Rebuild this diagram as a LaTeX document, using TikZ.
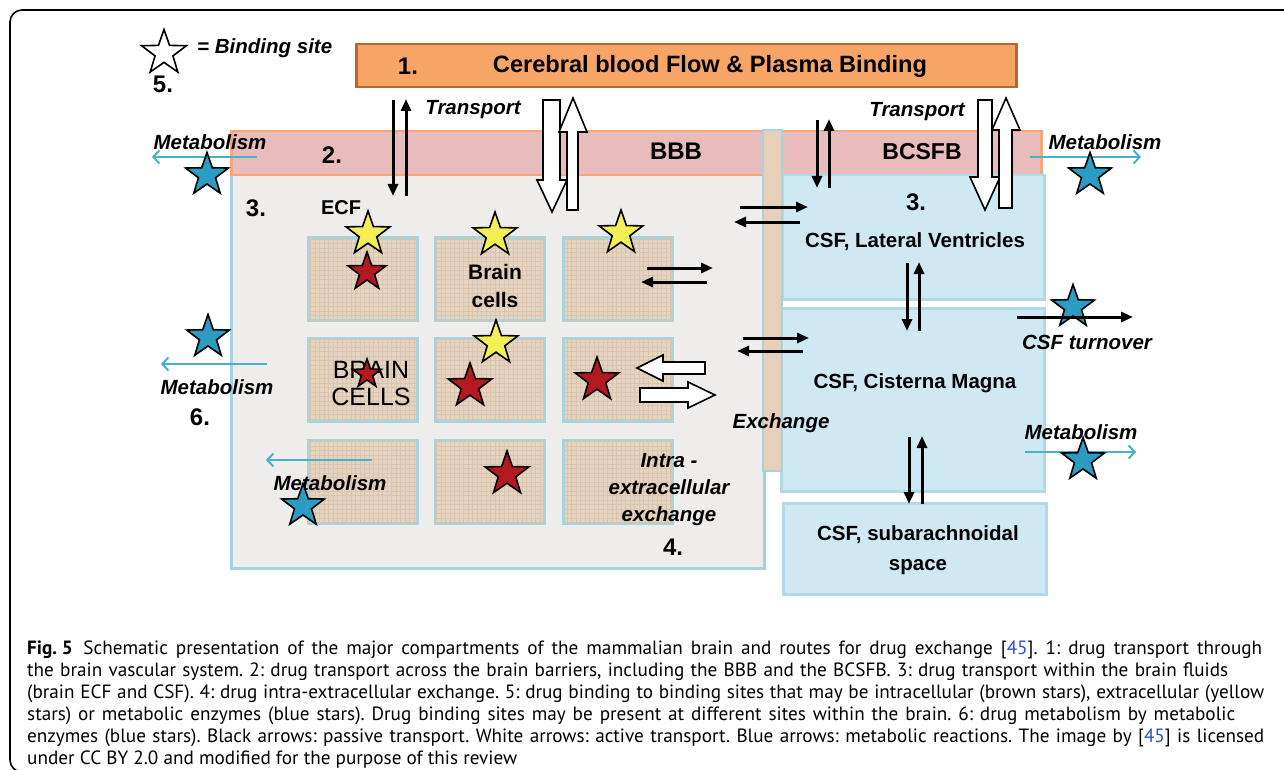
\documentclass[tikz,border=0pt]{standalone}
\usepackage{fontspec}
\setmainfont{Liberation Sans}
\newfontfamily\capfont{PT Sans}
\usetikzlibrary{shapes.geometric,arrows.meta,patterns.meta}
\definecolor{orfill}{HTML}{F6A566}
\definecolor{ordraw}{HTML}{B8662F}
\definecolor{pinkfill}{HTML}{E8BCBC}
\definecolor{pinkdraw}{HTML}{F2A878}
\definecolor{ecffill}{HTML}{EEEDEB}
\definecolor{lblue}{HTML}{A3D4E2}
\definecolor{tanfill}{HTML}{E5D4C0}
\definecolor{tangrid}{HTML}{D9C5AE}
\definecolor{csffill}{HTML}{CFE9F2}
\definecolor{csfdraw}{HTML}{B0DAE8}
\definecolor{stripfill}{HTML}{E8CFB9}
\definecolor{metblue}{HTML}{4AAFCB}
\definecolor{starblue}{HTML}{2C9CC2}
\definecolor{starred}{HTML}{B3191F}
\definecolor{staryellow}{HTML}{F3EF55}
\definecolor{linkblue}{HTML}{2B50D0}
\begin{document}
\frenchspacing
\begin{tikzpicture}[x=1pt,y=-1pt,
  lbl/.style={font=\fontsize{20.5}{27}\selectfont\bfseries\itshape, inner sep=0, align=center},
  num/.style={font=\fontsize{24}{28}\selectfont\bfseries, inner sep=0},
  boxlbl/.style={font=\fontsize{20.5}{30}\selectfont\bfseries, inner sep=0, align=center},
  basestar/.style={star, star points=5, star point ratio=2.5, draw=black, line width=1.6pt, inner sep=0, minimum size=#1},
  ystar/.style={basestar=#1, fill=staryellow},
  rstar/.style={basestar=#1, fill=starred},
  bstar/.style={basestar=#1, fill=starblue},
  wstar/.style={basestar=#1, fill=white},
  tile/.style={draw=lblue, line width=3pt, fill=tanfill, minimum width=109pt, minimum height=83pt, inner sep=0,
     postaction={pattern={Hatch[distance=4.5pt,angle=0,line width=0.4pt]}, pattern color=tangrid}},
  csfbox/.style={draw=csfdraw, line width=2.5pt, fill=csffill, inner sep=0},
  barr/.style={line width=3pt, -{Triangle[length=12pt,width=10pt]}},
  marr/.style={line width=2.5pt, draw=metblue, -{Straight Barb[length=6pt,width=13pt,line width=2pt]}},
  blockarr/.style={draw=black, line width=1.6pt, fill=white, line join=miter},
  capl/.style={font=\capfont\fontsize{19.2}{22}\selectfont, inner sep=0, anchor=base west}
]
\useasboundingbox (0,0) rectangle (1284,770);
\fill[white] (0,0) rectangle (1284,770);
% frame
\draw[line width=1.6pt, rounded corners=12pt] (1300,10) -- (10,10) -- (10,772) -- (1300,772);

% ECF compartment
\node[draw=lblue, line width=2.5pt, fill=ecffill, inner sep=0, minimum width=533pt, minimum height=393pt, anchor=north west] (ecf) at (230,174) {};
% tiles
\node[tile] (t11) at (362.5,278.5) {};
\node[tile] (t12) at (489.5,278.5) {};
\node[tile] (t13) at (618,278.5) {};
\node[tile] (t21) at (362.5,380) {};
\node[tile] (t22) at (489.5,380) {};
\node[tile] (t23) at (618,380) {};
\node[tile] (t31) at (362.5,481.5) {};
\node[tile] (t32) at (489.5,481.5) {};
\node[tile] (t33) at (618,481.5) {};

% barrier band
\node[draw=pinkdraw, line width=2.5pt, fill=pinkfill, inner sep=0, minimum width=810pt, minimum height=44pt, anchor=north west] (band) at (230,130) {};

% CSF boxes
\node[csfbox, minimum width=262pt, minimum height=124pt, anchor=north west] (lv) at (781,174) {};
\node[csfbox, minimum width=263pt, minimum height=183pt, anchor=north west] (cm) at (780,307) {};
\node[csfbox, minimum width=263pt, minimum height=91pt, anchor=north west] (sa) at (782,502) {};

% exchange strip
\node[draw=lblue, line width=2pt, fill=stripfill, inner sep=0, minimum width=19pt, minimum height=341pt, anchor=north west] (strip) at (762,129) {};

% top bar
\node[draw=ordraw, line width=2.5pt, fill=orfill, inner sep=0, minimum width=660pt, minimum height=43pt, anchor=north west] (cbf) at (355,43) {};
\node[num] (n1) at (408,66) {1.};
\node[font=\fontsize{23.6}{28}\selectfont\bfseries, inner sep=0] (cbft) at (710,66) {Cerebral blood Flow \& Plasma Binding};

% legend
\node[wstar=47pt] (legstar) at (164,53) {};
\node[lbl, anchor=west] (legt) at (197,48) {= Binding site};
\node[num] (n5) at (163,84) {5.};

% labels
\node[num] (n2) at (332,155) {2.};
\node[num] (n3a) at (256,208) {3.};
\node[font=\fontsize{20}{24}\selectfont\bfseries, inner sep=0] (ecft) at (341,208) {ECF};
\node[font=\fontsize{24}{28}\selectfont\bfseries, inner sep=0] (bbbt) at (676,151) {BBB};
\node[font=\fontsize{23}{28}\selectfont\bfseries, inner sep=0] (bcsfbt) at (922,152) {BCSFB};
\node[lbl] (tr1) at (473,110) {Transport};
\node[lbl] (tr2) at (917,112) {Transport};
\node[num] (n3b) at (916,202) {3.};
\node[boxlbl] (lvt) at (915,242) {CSF, Lateral Ventricles};
\node[boxlbl] (cmt) at (915,383) {CSF, Cisterna Magna};
\node[boxlbl] (sat) at (918,550) {CSF, subarachnoidal\\space};
\node[font=\fontsize{21}{28}\selectfont\bfseries, inner sep=0, align=center] (bct) at (495,286) {Brain\\cells};
\node[font=\fontsize{25}{27}\selectfont, inner sep=0, align=center] (bct2) at (371,384) {BRAIN\\CELLS};
\node[lbl] (exch) at (781,423) {Exchange};
\node[lbl] (intra) at (669,490) {Intra -\\extracellular\\exchange};
\node[num] (n4) at (673,547) {4.};
\node[lbl] (met1) at (210,142) {Metabolism};
\node[lbl] (met2) at (1105,142) {Metabolism};
\node[lbl] (met3) at (217,387) {Metabolism};
\node[lbl] (met4) at (330,483) {Metabolism};
\node[lbl] (met5) at (1081,432) {Metabolism};
\node[lbl] (csfto) at (1087,342) {CSF turnover};
\node[num] (n6) at (200,417) {6.};

% arrow end points
\coordinate (a1s) at (393,100); \coordinate (a1e) at (393,196);
\coordinate (a2s) at (406,196); \coordinate (a2e) at (406,99);
\coordinate (a3s) at (817,120); \coordinate (a3e) at (817,188);
\coordinate (a4s) at (829,188); \coordinate (a4e) at (829,119);
\coordinate (a5s) at (907,263); \coordinate (a5e) at (907,331);
\coordinate (a6s) at (919,331); \coordinate (a6e) at (919,262);
\coordinate (a7s) at (909,437); \coordinate (a7e) at (909,504);
\coordinate (a8s) at (922,504); \coordinate (a8e) at (922,436);
\coordinate (e1s) at (740,207); \coordinate (e1e) at (808,207);
\coordinate (e2s) at (800,222); \coordinate (e2e) at (734,222);
\coordinate (e3s) at (647,268); \coordinate (e3e) at (713,268);
\coordinate (e4s) at (707,282); \coordinate (e4e) at (641,282);
\coordinate (e5s) at (743,338); \coordinate (e5e) at (809,338);
\coordinate (e6s) at (803,351); \coordinate (e6e) at (737,351);
\coordinate (tos) at (1017,317); \coordinate (toe) at (1133,317);
\coordinate (m1s) at (257,157); \coordinate (m1e) at (152,157);
\coordinate (m2s) at (1030,157); \coordinate (m2e) at (1141,157);
\coordinate (m3s) at (267,364); \coordinate (m3e) at (161,364);
\coordinate (m4s) at (372,460); \coordinate (m4e) at (266,460);
\coordinate (m5s) at (1025,452); \coordinate (m5e) at (1136,452);

% black passive arrows
\draw[barr] (a1s) -- (a1e);
\draw[barr] (a2s) -- (a2e);
\draw[barr] (a3s) -- (a3e);
\draw[barr] (a4s) -- (a4e);
\draw[barr] (a5s) -- (a5e);
\draw[barr] (a6s) -- (a6e);
\draw[barr] (a7s) -- (a7e);
\draw[barr] (a8s) -- (a8e);
\draw[barr] (e1s) -- (e1e);
\draw[barr] (e2s) -- (e2e);
\draw[barr] (e3s) -- (e3e);
\draw[barr] (e4s) -- (e4e);
\draw[barr] (e5s) -- (e5e);
\draw[barr] (e6s) -- (e6e);

% metabolic arrows
\draw[marr] (m1s) -- (m1e);
\draw[marr] (m2s) -- (m2e);
\draw[marr] (m3s) -- (m3e);
\draw[marr] (m4s) -- (m4e);
\draw[marr] (m5s) -- (m5e);

% white active-transport block arrows
\draw[blockarr] (543,100) -- (560,100) -- (560,180) -- (567,180) -- (552,212) -- (537,180) -- (543,180) -- cycle;
\draw[blockarr] (567,210) -- (578,210) -- (578,132) -- (587,132) -- (573,98) -- (559,132) -- (567,132) -- cycle;
\draw[blockarr] (978,100) -- (992,100) -- (992,177) -- (1000,177) -- (985,210) -- (970,177) -- (978,177) -- cycle;
\draw[blockarr] (999,208) -- (1012,208) -- (1012,130) -- (1020,130) -- (1006,98) -- (992,130) -- (999,130) -- cycle;
\draw[blockarr] (705,362) -- (663,362) -- (663,355) -- (637,368) -- (663,381) -- (663,374) -- (705,374) -- cycle;
\draw[blockarr] (640,388) -- (688,388) -- (688,382) -- (715,395) -- (688,408) -- (688,402) -- (640,402) -- cycle;

% stars
\node[ystar=46pt] (y1) at (368,234) {};
\node[ystar=46pt] (y2) at (495,235) {};
\node[ystar=46pt] (y3) at (621,233) {};
\node[ystar=46pt] (y4) at (496,343) {};
\node[rstar=40pt] (r1) at (367,272) {};
\node[rstar=30pt] (r2) at (367,374) {};
\node[rstar=46pt] (r3) at (470,386) {};
\node[rstar=46pt] (r4) at (597,380) {};
\node[rstar=46pt] (r5) at (507,474) {};
\node[bstar=45pt] (b1) at (207,175) {};
\node[bstar=45pt] (b2) at (1090,175) {};
\node[bstar=45pt] (b3) at (208,337) {};
\node[bstar=45pt] (b4) at (1073,307) {};
\node[bstar=45pt] (b5) at (1083,460) {};
\node[bstar=45pt] (b6) at (303,506) {};
\draw[barr] (tos) -- (toe);

% caption
\node[capl] (c1) at (27,654) {\makebox[1235pt][s]{\mbox{\textbf{Fig. 5}}\hspace{0.55em}Schematic presentation of the major compartments of the mammalian brain and routes for drug exchange [\textcolor{linkblue}{45}]. 1: drug transport through}};
\node[capl] (c2) at (27,676) {\makebox[1201pt][s]{the brain vascular system. 2: drug transport across the brain barriers, including the BBB and the BCSFB. 3: drug transport within the brain fluids}};
\node[capl] (c3) at (27,698) {\makebox[1237pt][s]{(brain ECF and CSF). 4: drug intra-extracellular exchange. 5: drug binding to binding sites that may be intracellular (brown stars), extracellular (yellow}};
\node[capl] (c4) at (27,720) {\makebox[1208pt][s]{stars) or metabolic enzymes (blue stars). Drug binding sites may be present at different sites within the brain. 6: drug metabolism by metabolic}};
\node[capl] (c5) at (27,742) {\makebox[1237pt][s]{enzymes (blue stars). Black arrows: passive transport. White arrows: active transport. Blue arrows: metabolic reactions. The image by [\textcolor{linkblue}{45}] is licensed}};
\node[capl] (c6) at (27,764) {under CC BY 2.0 and modified for the purpose of this review};
\end{tikzpicture}
\end{document}
